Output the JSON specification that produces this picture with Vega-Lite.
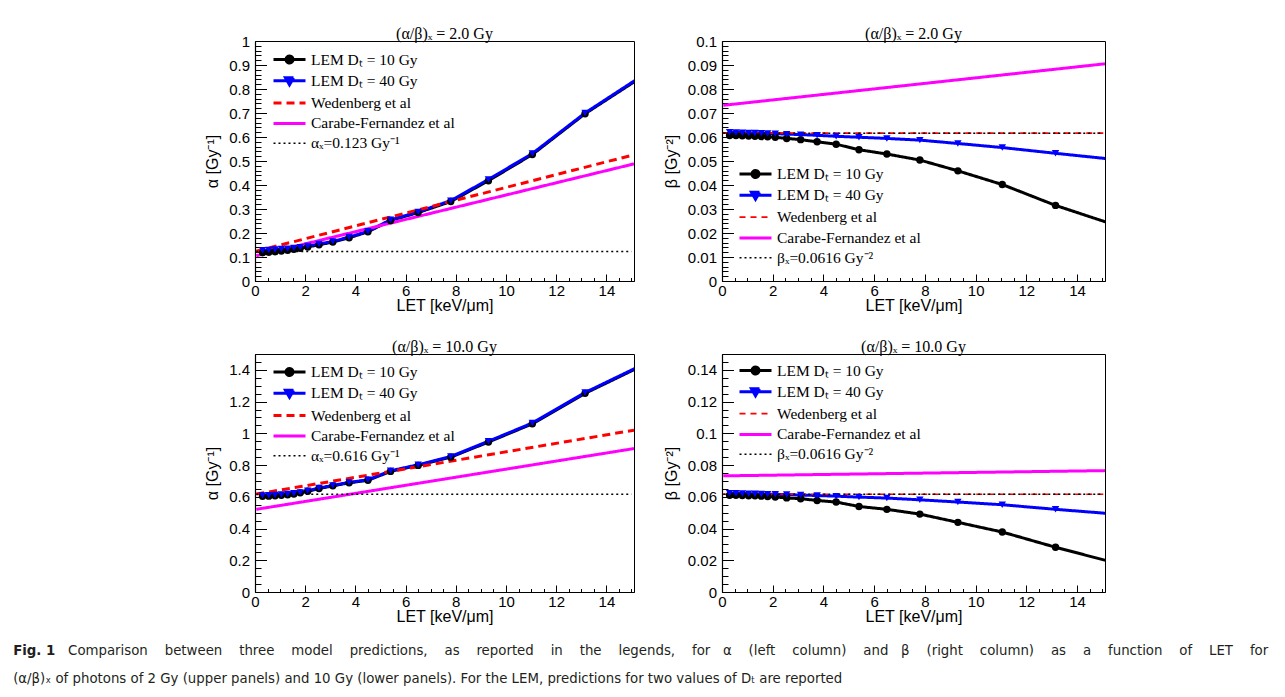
{
  "$schema": "https://vega.github.io/schema/vega-lite/v6.json",
  "padding": {"left": 13, "top": 25, "right": 0, "bottom": 0},
  "background": "white",
  "title": {
    "text": "Fig. 1",
    "subtitle": ["\u200b\u00a0\u00a0\u00a0\u00a0\u00a0\u00a0\u00a0\u00a0\u00a0\u00a0\u00a0\u00a0\u00a0Comparison \u00a0\u00a0\u00a0between \u00a0\u00a0\u00a0three \u00a0\u00a0\u00a0model \u00a0\u00a0\u00a0predictions, \u00a0\u00a0\u00a0as \u00a0\u00a0\u00a0reported \u00a0\u00a0\u00a0in \u00a0\u00a0\u00a0the \u00a0\u00a0\u00a0legends, \u00a0\u00a0\u00a0for \u00a0\u00a0α \u00a0\u00a0\u00a0(left \u00a0\u00a0\u00a0column) \u00a0\u00a0\u00a0and \u00a0\u00a0β \u00a0\u00a0\u00a0(right \u00a0\u00a0\u00a0column) \u00a0\u00a0\u00a0as \u00a0\u00a0\u00a0a \u00a0\u00a0\u00a0function \u00a0\u00a0\u00a0of \u00a0\u00a0\u00a0LET \u00a0\u00a0\u00a0for", "(α/β)ₓ of photons of 2 Gy (upper panels) and 10 Gy (lower panels). For the LEM, predictions for two values of Dₜ are reported"],
    "orient": "bottom", "anchor": "start", "frame": "bounds", "dx": -191, "offset": 18,
    "font": "DejaVu Sans Condensed", "fontSize": 14.8, "fontWeight": "bold", "color": "#231f20", "baseline": "top",
    "subtitleFont": "DejaVu Sans Condensed", "subtitleFontSize": 14.8, "subtitleFontWeight": "normal", "subtitleColor": "#231f20", "subtitleLineHeight": 28, "subtitlePadding": -14.8
  },
  "datasets": {
    "A": [
      {"s": "LEM Dₜ = 10 Gy", "x": 0.3, "y": 0.118}, {"s": "LEM Dₜ = 10 Gy", "x": 0.55, "y": 0.120}, {"s": "LEM Dₜ = 10 Gy", "x": 0.8, "y": 0.122}, {"s": "LEM Dₜ = 10 Gy", "x": 1.05, "y": 0.125}, {"s": "LEM Dₜ = 10 Gy", "x": 1.3, "y": 0.128}, {"s": "LEM Dₜ = 10 Gy", "x": 1.55, "y": 0.132}, {"s": "LEM Dₜ = 10 Gy", "x": 1.8, "y": 0.136}, {"s": "LEM Dₜ = 10 Gy", "x": 2.1, "y": 0.142}, {"s": "LEM Dₜ = 10 Gy", "x": 2.55, "y": 0.151}, {"s": "LEM Dₜ = 10 Gy", "x": 3.1, "y": 0.162}, {"s": "LEM Dₜ = 10 Gy", "x": 3.75, "y": 0.180}, {"s": "LEM Dₜ = 10 Gy", "x": 4.5, "y": 0.205}, {"s": "LEM Dₜ = 10 Gy", "x": 5.4, "y": 0.252}, {"s": "LEM Dₜ = 10 Gy", "x": 6.5, "y": 0.285}, {"s": "LEM Dₜ = 10 Gy", "x": 7.8, "y": 0.331}, {"s": "LEM Dₜ = 10 Gy", "x": 9.3, "y": 0.418}, {"s": "LEM Dₜ = 10 Gy", "x": 11.05, "y": 0.527}, {"s": "LEM Dₜ = 10 Gy", "x": 13.15, "y": 0.697}, {"s": "LEM Dₜ = 10 Gy", "x": 15.7, "y": 0.870},
      {"s": "LEM Dₜ = 40 Gy", "x": 0.3, "y": 0.128}, {"s": "LEM Dₜ = 40 Gy", "x": 0.55, "y": 0.129}, {"s": "LEM Dₜ = 40 Gy", "x": 0.8, "y": 0.131}, {"s": "LEM Dₜ = 40 Gy", "x": 1.05, "y": 0.133}, {"s": "LEM Dₜ = 40 Gy", "x": 1.3, "y": 0.135}, {"s": "LEM Dₜ = 40 Gy", "x": 1.55, "y": 0.138}, {"s": "LEM Dₜ = 40 Gy", "x": 1.8, "y": 0.141}, {"s": "LEM Dₜ = 40 Gy", "x": 2.1, "y": 0.146}, {"s": "LEM Dₜ = 40 Gy", "x": 2.55, "y": 0.154}, {"s": "LEM Dₜ = 40 Gy", "x": 3.1, "y": 0.165}, {"s": "LEM Dₜ = 40 Gy", "x": 3.75, "y": 0.183}, {"s": "LEM Dₜ = 40 Gy", "x": 4.5, "y": 0.207}, {"s": "LEM Dₜ = 40 Gy", "x": 5.4, "y": 0.255}, {"s": "LEM Dₜ = 40 Gy", "x": 6.5, "y": 0.288}, {"s": "LEM Dₜ = 40 Gy", "x": 7.8, "y": 0.335}, {"s": "LEM Dₜ = 40 Gy", "x": 9.3, "y": 0.423}, {"s": "LEM Dₜ = 40 Gy", "x": 11.05, "y": 0.531}, {"s": "LEM Dₜ = 40 Gy", "x": 13.15, "y": 0.700}, {"s": "LEM Dₜ = 40 Gy", "x": 15.7, "y": 0.874},
      {"s": "Wedenberg et al", "x": 0.05, "y": 0.124}, {"s": "Wedenberg et al", "x": 15.1, "y": 0.526},
      {"s": "Carabe-Fernandez et al", "x": 0.05, "y": 0.105}, {"s": "Carabe-Fernandez et al", "x": 15.1, "y": 0.488},
      {"s": "αₓ=0.123 Gy⁻¹", "x": 0.05, "y": 0.123}, {"s": "αₓ=0.123 Gy⁻¹", "x": 15.0, "y": 0.123}
    ],
    "B": [
      {"s": "LEM Dₜ = 10 Gy", "x": 0.3, "y": 0.0606}, {"s": "LEM Dₜ = 10 Gy", "x": 0.55, "y": 0.0606}, {"s": "LEM Dₜ = 10 Gy", "x": 0.8, "y": 0.0605}, {"s": "LEM Dₜ = 10 Gy", "x": 1.05, "y": 0.0604}, {"s": "LEM Dₜ = 10 Gy", "x": 1.3, "y": 0.0603}, {"s": "LEM Dₜ = 10 Gy", "x": 1.55, "y": 0.0602}, {"s": "LEM Dₜ = 10 Gy", "x": 1.8, "y": 0.0601}, {"s": "LEM Dₜ = 10 Gy", "x": 2.1, "y": 0.0599}, {"s": "LEM Dₜ = 10 Gy", "x": 2.55, "y": 0.0594}, {"s": "LEM Dₜ = 10 Gy", "x": 3.1, "y": 0.0589}, {"s": "LEM Dₜ = 10 Gy", "x": 3.75, "y": 0.0580}, {"s": "LEM Dₜ = 10 Gy", "x": 4.5, "y": 0.0570}, {"s": "LEM Dₜ = 10 Gy", "x": 5.4, "y": 0.0547}, {"s": "LEM Dₜ = 10 Gy", "x": 6.5, "y": 0.0529}, {"s": "LEM Dₜ = 10 Gy", "x": 7.8, "y": 0.0504}, {"s": "LEM Dₜ = 10 Gy", "x": 9.3, "y": 0.0459}, {"s": "LEM Dₜ = 10 Gy", "x": 11.05, "y": 0.0402}, {"s": "LEM Dₜ = 10 Gy", "x": 13.15, "y": 0.0315}, {"s": "LEM Dₜ = 10 Gy", "x": 15.7, "y": 0.0226},
      {"s": "LEM Dₜ = 40 Gy", "x": 0.3, "y": 0.0620}, {"s": "LEM Dₜ = 40 Gy", "x": 0.55, "y": 0.0619}, {"s": "LEM Dₜ = 40 Gy", "x": 0.8, "y": 0.0618}, {"s": "LEM Dₜ = 40 Gy", "x": 1.05, "y": 0.0617}, {"s": "LEM Dₜ = 40 Gy", "x": 1.3, "y": 0.0617}, {"s": "LEM Dₜ = 40 Gy", "x": 1.55, "y": 0.0616}, {"s": "LEM Dₜ = 40 Gy", "x": 1.8, "y": 0.0615}, {"s": "LEM Dₜ = 40 Gy", "x": 2.1, "y": 0.0614}, {"s": "LEM Dₜ = 40 Gy", "x": 2.55, "y": 0.0612}, {"s": "LEM Dₜ = 40 Gy", "x": 3.1, "y": 0.0610}, {"s": "LEM Dₜ = 40 Gy", "x": 3.75, "y": 0.0607}, {"s": "LEM Dₜ = 40 Gy", "x": 4.5, "y": 0.0603}, {"s": "LEM Dₜ = 40 Gy", "x": 5.4, "y": 0.0599}, {"s": "LEM Dₜ = 40 Gy", "x": 6.5, "y": 0.0594}, {"s": "LEM Dₜ = 40 Gy", "x": 7.8, "y": 0.0587}, {"s": "LEM Dₜ = 40 Gy", "x": 9.3, "y": 0.0573}, {"s": "LEM Dₜ = 40 Gy", "x": 11.05, "y": 0.0556}, {"s": "LEM Dₜ = 40 Gy", "x": 13.15, "y": 0.0532}, {"s": "LEM Dₜ = 40 Gy", "x": 15.7, "y": 0.0504},
      {"s": "Wedenberg et al", "x": 0.05, "y": 0.0616}, {"s": "Wedenberg et al", "x": 15.1, "y": 0.0616},
      {"s": "Carabe-Fernandez et al", "x": 0.05, "y": 0.0732}, {"s": "Carabe-Fernandez et al", "x": 15.1, "y": 0.0905},
      {"s": "βₓ=0.0616 Gy⁻²", "x": 0.05, "y": 0.0616}, {"s": "βₓ=0.0616 Gy⁻²", "x": 15.0, "y": 0.0616}
    ],
    "C": [
      {"s": "LEM Dₜ = 10 Gy", "x": 0.3, "y": 0.603}, {"s": "LEM Dₜ = 10 Gy", "x": 0.55, "y": 0.604}, {"s": "LEM Dₜ = 10 Gy", "x": 0.8, "y": 0.606}, {"s": "LEM Dₜ = 10 Gy", "x": 1.05, "y": 0.609}, {"s": "LEM Dₜ = 10 Gy", "x": 1.3, "y": 0.613}, {"s": "LEM Dₜ = 10 Gy", "x": 1.55, "y": 0.618}, {"s": "LEM Dₜ = 10 Gy", "x": 1.8, "y": 0.625}, {"s": "LEM Dₜ = 10 Gy", "x": 2.1, "y": 0.635}, {"s": "LEM Dₜ = 10 Gy", "x": 2.55, "y": 0.652}, {"s": "LEM Dₜ = 10 Gy", "x": 3.1, "y": 0.669}, {"s": "LEM Dₜ = 10 Gy", "x": 3.75, "y": 0.688}, {"s": "LEM Dₜ = 10 Gy", "x": 4.5, "y": 0.704}, {"s": "LEM Dₜ = 10 Gy", "x": 5.4, "y": 0.760}, {"s": "LEM Dₜ = 10 Gy", "x": 6.5, "y": 0.798}, {"s": "LEM Dₜ = 10 Gy", "x": 7.8, "y": 0.850}, {"s": "LEM Dₜ = 10 Gy", "x": 9.3, "y": 0.945}, {"s": "LEM Dₜ = 10 Gy", "x": 11.05, "y": 1.060}, {"s": "LEM Dₜ = 10 Gy", "x": 13.15, "y": 1.252}, {"s": "LEM Dₜ = 10 Gy", "x": 15.7, "y": 1.447},
      {"s": "LEM Dₜ = 40 Gy", "x": 0.3, "y": 0.609}, {"s": "LEM Dₜ = 40 Gy", "x": 0.55, "y": 0.610}, {"s": "LEM Dₜ = 40 Gy", "x": 0.8, "y": 0.612}, {"s": "LEM Dₜ = 40 Gy", "x": 1.05, "y": 0.614}, {"s": "LEM Dₜ = 40 Gy", "x": 1.3, "y": 0.618}, {"s": "LEM Dₜ = 40 Gy", "x": 1.55, "y": 0.622}, {"s": "LEM Dₜ = 40 Gy", "x": 1.8, "y": 0.628}, {"s": "LEM Dₜ = 40 Gy", "x": 2.1, "y": 0.638}, {"s": "LEM Dₜ = 40 Gy", "x": 2.55, "y": 0.655}, {"s": "LEM Dₜ = 40 Gy", "x": 3.1, "y": 0.672}, {"s": "LEM Dₜ = 40 Gy", "x": 3.75, "y": 0.691}, {"s": "LEM Dₜ = 40 Gy", "x": 4.5, "y": 0.707}, {"s": "LEM Dₜ = 40 Gy", "x": 5.4, "y": 0.764}, {"s": "LEM Dₜ = 40 Gy", "x": 6.5, "y": 0.802}, {"s": "LEM Dₜ = 40 Gy", "x": 7.8, "y": 0.854}, {"s": "LEM Dₜ = 40 Gy", "x": 9.3, "y": 0.950}, {"s": "LEM Dₜ = 40 Gy", "x": 11.05, "y": 1.065}, {"s": "LEM Dₜ = 40 Gy", "x": 13.15, "y": 1.257}, {"s": "LEM Dₜ = 40 Gy", "x": 15.7, "y": 1.452},
      {"s": "Wedenberg et al", "x": 0.05, "y": 0.617}, {"s": "Wedenberg et al", "x": 15.1, "y": 1.020},
      {"s": "Carabe-Fernandez et al", "x": 0.05, "y": 0.521}, {"s": "Carabe-Fernandez et al", "x": 15.1, "y": 0.904},
      {"s": "αₓ=0.616 Gy⁻¹", "x": 0.05, "y": 0.616}, {"s": "αₓ=0.616 Gy⁻¹", "x": 15.0, "y": 0.616}
    ],
    "D": [
      {"s": "LEM Dₜ = 10 Gy", "x": 0.3, "y": 0.0610}, {"s": "LEM Dₜ = 10 Gy", "x": 0.55, "y": 0.0609}, {"s": "LEM Dₜ = 10 Gy", "x": 0.8, "y": 0.0608}, {"s": "LEM Dₜ = 10 Gy", "x": 1.05, "y": 0.0607}, {"s": "LEM Dₜ = 10 Gy", "x": 1.3, "y": 0.0606}, {"s": "LEM Dₜ = 10 Gy", "x": 1.55, "y": 0.0604}, {"s": "LEM Dₜ = 10 Gy", "x": 1.8, "y": 0.0602}, {"s": "LEM Dₜ = 10 Gy", "x": 2.1, "y": 0.0599}, {"s": "LEM Dₜ = 10 Gy", "x": 2.55, "y": 0.0593}, {"s": "LEM Dₜ = 10 Gy", "x": 3.1, "y": 0.0588}, {"s": "LEM Dₜ = 10 Gy", "x": 3.75, "y": 0.0577}, {"s": "LEM Dₜ = 10 Gy", "x": 4.5, "y": 0.0567}, {"s": "LEM Dₜ = 10 Gy", "x": 5.4, "y": 0.0539}, {"s": "LEM Dₜ = 10 Gy", "x": 6.5, "y": 0.0521}, {"s": "LEM Dₜ = 10 Gy", "x": 7.8, "y": 0.0491}, {"s": "LEM Dₜ = 10 Gy", "x": 9.3, "y": 0.0439}, {"s": "LEM Dₜ = 10 Gy", "x": 11.05, "y": 0.0378}, {"s": "LEM Dₜ = 10 Gy", "x": 13.15, "y": 0.0282}, {"s": "LEM Dₜ = 10 Gy", "x": 15.7, "y": 0.0175},
      {"s": "LEM Dₜ = 40 Gy", "x": 0.3, "y": 0.0623}, {"s": "LEM Dₜ = 40 Gy", "x": 0.55, "y": 0.0622}, {"s": "LEM Dₜ = 40 Gy", "x": 0.8, "y": 0.0621}, {"s": "LEM Dₜ = 40 Gy", "x": 1.05, "y": 0.0620}, {"s": "LEM Dₜ = 40 Gy", "x": 1.3, "y": 0.0619}, {"s": "LEM Dₜ = 40 Gy", "x": 1.55, "y": 0.0618}, {"s": "LEM Dₜ = 40 Gy", "x": 1.8, "y": 0.0617}, {"s": "LEM Dₜ = 40 Gy", "x": 2.1, "y": 0.0616}, {"s": "LEM Dₜ = 40 Gy", "x": 2.55, "y": 0.0614}, {"s": "LEM Dₜ = 40 Gy", "x": 3.1, "y": 0.0611}, {"s": "LEM Dₜ = 40 Gy", "x": 3.75, "y": 0.0608}, {"s": "LEM Dₜ = 40 Gy", "x": 4.5, "y": 0.0604}, {"s": "LEM Dₜ = 40 Gy", "x": 5.4, "y": 0.0598}, {"s": "LEM Dₜ = 40 Gy", "x": 6.5, "y": 0.0592}, {"s": "LEM Dₜ = 40 Gy", "x": 7.8, "y": 0.0581}, {"s": "LEM Dₜ = 40 Gy", "x": 9.3, "y": 0.0567}, {"s": "LEM Dₜ = 40 Gy", "x": 11.05, "y": 0.0550}, {"s": "LEM Dₜ = 40 Gy", "x": 13.15, "y": 0.0521}, {"s": "LEM Dₜ = 40 Gy", "x": 15.7, "y": 0.0489},
      {"s": "Wedenberg et al", "x": 0.05, "y": 0.0616}, {"s": "Wedenberg et al", "x": 15.1, "y": 0.0616},
      {"s": "Carabe-Fernandez et al", "x": 0.05, "y": 0.0732}, {"s": "Carabe-Fernandez et al", "x": 15.1, "y": 0.0765},
      {"s": "βₓ=0.0616 Gy⁻²", "x": 0.05, "y": 0.0616}, {"s": "βₓ=0.0616 Gy⁻²", "x": 15.0, "y": 0.0616}
    ]
  },
  "vconcat": [
    {
      "resolve": {"scale": {"color": "independent", "strokeDash": "independent", "strokeWidth": "independent", "shape": "independent", "fill": "independent", "x": "independent", "y": "independent"}, "legend": {"color": "independent", "strokeDash": "independent", "strokeWidth": "independent"}},
      "hconcat": [
        {
          "width": 379, "height": 240,
          "data": {"name": "A"},
          "title": {"text": "(α/β)ₓ = 2.0 Gy"},
          "encoding": {
            "x": {"field": "x", "type": "quantitative", "scale": {"domain": [0, 15.1], "nice": false, "zero": false},
              "axis": {"title": "LET [keV/μm]", "values": [0,0.5,1,1.5,2,2.5,3,3.5,4,4.5,5,5.5,6,6.5,7,7.5,8,8.5,9,9.5,10,10.5,11,11.5,12,12.5,13,13.5,14,14.5,15],
                "tickSize": {"expr": "abs(datum.value/2-round(datum.value/2))<0.001 ? -7 : -3.5"},
                "labelExpr": "abs(datum.value/2-round(datum.value/2))<0.001 ? format(datum.value,'d') : ''"}},
            "y": {"field": "y", "type": "quantitative", "scale": {"domain": [0, 1], "nice": false, "zero": false},
              "axis": {"title": "α [Gy⁻¹]", "values": [0,0.02,0.04,0.06,0.08,0.1,0.12,0.14,0.16,0.18,0.2,0.22,0.24,0.26,0.28,0.3,0.32,0.34,0.36,0.38,0.4,0.42,0.44,0.46,0.48,0.5,0.52,0.54,0.56,0.58,0.6,0.62,0.64,0.66,0.68,0.7,0.72,0.74,0.76,0.78,0.8,0.82,0.84,0.86,0.88,0.9,0.92,0.94,0.96,0.98,1],
                "tickSize": {"expr": "abs(datum.value*10-round(datum.value*10))<0.001 ? -11.5 : -6"},
                "labelExpr": "abs(datum.value*10-round(datum.value*10))<0.001 ? format(datum.value,'.1~f') : ''"}}
          },
          "layer": [
            {
              "mark": {"type": "line", "clip": true},
              "encoding": {
                "color": {"field": "s", "type": "nominal", "scale": {"domain": ["LEM Dₜ = 10 Gy", "LEM Dₜ = 40 Gy", "Wedenberg et al", "Carabe-Fernandez et al", "αₓ=0.123 Gy⁻¹"], "range": ["#000000", "#0000ff", "#ff0000", "#ff00ff", "#000000"]},
                  "legend": {"title": null, "orient": "none", "legendX": 23, "legendY": 7,
                    "encode": {"symbols": {"update": {
                      "shape": {"signal": "datum.index == 0 ? 'M-1.6,0L1.6,0M0.35,0A0.35,0.35,0,1,1,-0.35,0A0.35,0.35,0,1,1,0.35,0Z' : datum.index == 1 ? 'M-1.6,0L1.6,0M-0.4,-0.3L0.4,-0.3L0,0.4Z' : 'M-1.6,0L1.6,0'"},
                      "fill": {"signal": "datum.index == 0 ? '#000000' : datum.index == 1 ? '#0000ff' : 'transparent'"}}}}}},
                "strokeDash": {"field": "s", "type": "nominal", "scale": {"domain": ["LEM Dₜ = 10 Gy", "LEM Dₜ = 40 Gy", "Wedenberg et al", "Carabe-Fernandez et al", "αₓ=0.123 Gy⁻¹"], "range": [[1,0],[1,0],[8,5],[1,0],[2,3]]}, "legend": {"title": null}},
                "strokeWidth": {"field": "s", "type": "nominal", "scale": {"type": "ordinal", "domain": ["LEM Dₜ = 10 Gy", "LEM Dₜ = 40 Gy", "Wedenberg et al", "Carabe-Fernandez et al", "αₓ=0.123 Gy⁻¹"], "range": [3,3,3,3,1.5]}, "legend": {"title": null}}
              }
            },
            {
              "transform": [{"filter": "indexof(datum.s, 'LEM') == 0"}],
              "mark": {"type": "point", "filled": true, "clip": true, "opacity": 1, "size": 55, "strokeWidth": 0},
              "encoding": {
                "shape": {"field": "s", "type": "nominal", "scale": {"domain": ["LEM Dₜ = 10 Gy", "LEM Dₜ = 40 Gy"], "range": ["circle", "triangle-down"]}, "legend": null},
                "fill": {"field": "s", "type": "nominal", "scale": {"domain": ["LEM Dₜ = 10 Gy", "LEM Dₜ = 40 Gy"], "range": ["#000000", "#0000ff"]}, "legend": null}
              }
            }
          ]
        },
        {
          "width": 383, "height": 240,
          "data": {"name": "B"},
          "title": {"text": "(α/β)ₓ = 2.0 Gy"},
          "encoding": {
            "x": {"field": "x", "type": "quantitative", "scale": {"domain": [0, 15.1], "nice": false, "zero": false},
              "axis": {"title": "LET [keV/μm]", "values": [0,0.5,1,1.5,2,2.5,3,3.5,4,4.5,5,5.5,6,6.5,7,7.5,8,8.5,9,9.5,10,10.5,11,11.5,12,12.5,13,13.5,14,14.5,15],
                "tickSize": {"expr": "abs(datum.value/2-round(datum.value/2))<0.001 ? -7 : -3.5"},
                "labelExpr": "abs(datum.value/2-round(datum.value/2))<0.001 ? format(datum.value,'d') : ''"}},
            "y": {"field": "y", "type": "quantitative", "scale": {"domain": [0, 0.1], "nice": false, "zero": false},
              "axis": {"title": "β [Gy⁻²]", "values": [0,0.002,0.004,0.006,0.008,0.01,0.012,0.014,0.016,0.018,0.02,0.022,0.024,0.026,0.028,0.03,0.032,0.034,0.036,0.038,0.04,0.042,0.044,0.046,0.048,0.05,0.052,0.054,0.056,0.058,0.06,0.062,0.064,0.066,0.068,0.07,0.072,0.074,0.076,0.078,0.08,0.082,0.084,0.086,0.088,0.09,0.092,0.094,0.096,0.098,0.1],
                "tickSize": {"expr": "abs(datum.value*100-round(datum.value*100))<0.001 ? -11.5 : -6"},
                "labelExpr": "abs(datum.value*100-round(datum.value*100))<0.001 ? format(datum.value,'.2~f') : ''"}}
          },
          "layer": [
            {
              "mark": {"type": "line", "clip": true},
              "encoding": {
                "color": {"field": "s", "type": "nominal", "scale": {"domain": ["LEM Dₜ = 10 Gy", "LEM Dₜ = 40 Gy", "Wedenberg et al", "Carabe-Fernandez et al", "βₓ=0.0616 Gy⁻²"], "range": ["#000000", "#0000ff", "#ff0000", "#ff00ff", "#000000"]},
                  "legend": {"title": null, "orient": "none", "legendX": 22, "legendY": 121.5,
                    "encode": {"symbols": {"update": {
                      "shape": {"signal": "datum.index == 0 ? 'M-1.6,0L1.6,0M0.35,0A0.35,0.35,0,1,1,-0.35,0A0.35,0.35,0,1,1,0.35,0Z' : datum.index == 1 ? 'M-1.6,0L1.6,0M-0.4,-0.3L0.4,-0.3L0,0.4Z' : 'M-1.6,0L1.6,0'"},
                      "fill": {"signal": "datum.index == 0 ? '#000000' : datum.index == 1 ? '#0000ff' : 'transparent'"}}}}}},
                "strokeDash": {"field": "s", "type": "nominal", "scale": {"domain": ["LEM Dₜ = 10 Gy", "LEM Dₜ = 40 Gy", "Wedenberg et al", "Carabe-Fernandez et al", "βₓ=0.0616 Gy⁻²"], "range": [[1,0],[1,0],[6,5],[1,0],[2,3]]}, "legend": {"title": null}},
                "strokeWidth": {"field": "s", "type": "nominal", "scale": {"type": "ordinal", "domain": ["LEM Dₜ = 10 Gy", "LEM Dₜ = 40 Gy", "Wedenberg et al", "Carabe-Fernandez et al", "βₓ=0.0616 Gy⁻²"], "range": [3,3,1.6,3,1.5]}, "legend": {"title": null}}
              }
            },
            {
              "transform": [{"filter": "indexof(datum.s, 'LEM') == 0"}],
              "mark": {"type": "point", "filled": true, "clip": true, "opacity": 1, "size": 55, "strokeWidth": 0},
              "encoding": {
                "shape": {"field": "s", "type": "nominal", "scale": {"domain": ["LEM Dₜ = 10 Gy", "LEM Dₜ = 40 Gy"], "range": ["circle", "triangle-down"]}, "legend": null},
                "fill": {"field": "s", "type": "nominal", "scale": {"domain": ["LEM Dₜ = 10 Gy", "LEM Dₜ = 40 Gy"], "range": ["#000000", "#0000ff"]}, "legend": null}
              }
            }
          ]
        }
      ]
    },
    {
      "resolve": {"scale": {"color": "independent", "strokeDash": "independent", "strokeWidth": "independent", "shape": "independent", "fill": "independent", "x": "independent", "y": "independent"}, "legend": {"color": "independent", "strokeDash": "independent", "strokeWidth": "independent"}},
      "hconcat": [
        {
          "width": 379, "height": 238,
          "data": {"name": "C"},
          "title": {"text": "(α/β)ₓ = 10.0 Gy"},
          "encoding": {
            "x": {"field": "x", "type": "quantitative", "scale": {"domain": [0, 15.1], "nice": false, "zero": false},
              "axis": {"title": "LET [keV/μm]", "values": [0,0.5,1,1.5,2,2.5,3,3.5,4,4.5,5,5.5,6,6.5,7,7.5,8,8.5,9,9.5,10,10.5,11,11.5,12,12.5,13,13.5,14,14.5,15],
                "tickSize": {"expr": "abs(datum.value/2-round(datum.value/2))<0.001 ? -7 : -3.5"},
                "labelExpr": "abs(datum.value/2-round(datum.value/2))<0.001 ? format(datum.value,'d') : ''"}},
            "y": {"field": "y", "type": "quantitative", "scale": {"domain": [0, 1.5], "nice": false, "zero": false},
              "axis": {"title": "α [Gy⁻¹]", "values": [0,0.05,0.1,0.15,0.2,0.25,0.3,0.35,0.4,0.45,0.5,0.55,0.6,0.65,0.7,0.75,0.8,0.85,0.9,0.95,1,1.05,1.1,1.15,1.2,1.25,1.3,1.35,1.4,1.45,1.5],
                "tickSize": {"expr": "abs(datum.value*5-round(datum.value*5))<0.001 ? -11.5 : -6"},
                "labelExpr": "abs(datum.value*5-round(datum.value*5))<0.001 ? format(datum.value,'.1~f') : ''"}}
          },
          "layer": [
            {
              "mark": {"type": "line", "clip": true},
              "encoding": {
                "color": {"field": "s", "type": "nominal", "scale": {"domain": ["LEM Dₜ = 10 Gy", "LEM Dₜ = 40 Gy", "Wedenberg et al", "Carabe-Fernandez et al", "αₓ=0.616 Gy⁻¹"], "range": ["#000000", "#0000ff", "#ff0000", "#ff00ff", "#000000"]},
                  "legend": {"title": null, "orient": "none", "legendX": 23, "legendY": 6.5,
                    "encode": {"symbols": {"update": {
                      "shape": {"signal": "datum.index == 0 ? 'M-1.6,0L1.6,0M0.35,0A0.35,0.35,0,1,1,-0.35,0A0.35,0.35,0,1,1,0.35,0Z' : datum.index == 1 ? 'M-1.6,0L1.6,0M-0.4,-0.3L0.4,-0.3L0,0.4Z' : 'M-1.6,0L1.6,0'"},
                      "fill": {"signal": "datum.index == 0 ? '#000000' : datum.index == 1 ? '#0000ff' : 'transparent'"}}}}}},
                "strokeDash": {"field": "s", "type": "nominal", "scale": {"domain": ["LEM Dₜ = 10 Gy", "LEM Dₜ = 40 Gy", "Wedenberg et al", "Carabe-Fernandez et al", "αₓ=0.616 Gy⁻¹"], "range": [[1,0],[1,0],[8,5],[1,0],[2,3]]}, "legend": {"title": null}},
                "strokeWidth": {"field": "s", "type": "nominal", "scale": {"type": "ordinal", "domain": ["LEM Dₜ = 10 Gy", "LEM Dₜ = 40 Gy", "Wedenberg et al", "Carabe-Fernandez et al", "αₓ=0.616 Gy⁻¹"], "range": [3,3,3,3,1.5]}, "legend": {"title": null}}
              }
            },
            {
              "transform": [{"filter": "indexof(datum.s, 'LEM') == 0"}],
              "mark": {"type": "point", "filled": true, "clip": true, "opacity": 1, "size": 55, "strokeWidth": 0},
              "encoding": {
                "shape": {"field": "s", "type": "nominal", "scale": {"domain": ["LEM Dₜ = 10 Gy", "LEM Dₜ = 40 Gy"], "range": ["circle", "triangle-down"]}, "legend": null},
                "fill": {"field": "s", "type": "nominal", "scale": {"domain": ["LEM Dₜ = 10 Gy", "LEM Dₜ = 40 Gy"], "range": ["#000000", "#0000ff"]}, "legend": null}
              }
            }
          ]
        },
        {
          "width": 383, "height": 238,
          "data": {"name": "D"},
          "title": {"text": "(α/β)ₓ = 10.0 Gy"},
          "encoding": {
            "x": {"field": "x", "type": "quantitative", "scale": {"domain": [0, 15.1], "nice": false, "zero": false},
              "axis": {"title": "LET [keV/μm]", "values": [0,0.5,1,1.5,2,2.5,3,3.5,4,4.5,5,5.5,6,6.5,7,7.5,8,8.5,9,9.5,10,10.5,11,11.5,12,12.5,13,13.5,14,14.5,15],
                "tickSize": {"expr": "abs(datum.value/2-round(datum.value/2))<0.001 ? -7 : -3.5"},
                "labelExpr": "abs(datum.value/2-round(datum.value/2))<0.001 ? format(datum.value,'d') : ''"}},
            "y": {"field": "y", "type": "quantitative", "scale": {"domain": [0, 0.15], "nice": false, "zero": false},
              "axis": {"title": "β [Gy⁻²]", "values": [0,0.005,0.01,0.015,0.02,0.025,0.03,0.035,0.04,0.045,0.05,0.055,0.06,0.065,0.07,0.075,0.08,0.085,0.09,0.095,0.1,0.105,0.11,0.115,0.12,0.125,0.13,0.135,0.14,0.145,0.15],
                "tickSize": {"expr": "abs(datum.value*50-round(datum.value*50))<0.001 ? -11.5 : -6"},
                "labelExpr": "abs(datum.value*50-round(datum.value*50))<0.001 ? format(datum.value,'.2~f') : ''"}}
          },
          "layer": [
            {
              "mark": {"type": "line", "clip": true},
              "encoding": {
                "color": {"field": "s", "type": "nominal", "scale": {"domain": ["LEM Dₜ = 10 Gy", "LEM Dₜ = 40 Gy", "Wedenberg et al", "Carabe-Fernandez et al", "βₓ=0.0616 Gy⁻²"], "range": ["#000000", "#0000ff", "#ff0000", "#ff00ff", "#000000"]},
                  "legend": {"title": null, "orient": "none", "legendX": 22, "legendY": 5,
                    "encode": {"symbols": {"update": {
                      "shape": {"signal": "datum.index == 0 ? 'M-1.6,0L1.6,0M0.35,0A0.35,0.35,0,1,1,-0.35,0A0.35,0.35,0,1,1,0.35,0Z' : datum.index == 1 ? 'M-1.6,0L1.6,0M-0.4,-0.3L0.4,-0.3L0,0.4Z' : 'M-1.6,0L1.6,0'"},
                      "fill": {"signal": "datum.index == 0 ? '#000000' : datum.index == 1 ? '#0000ff' : 'transparent'"}}}}}},
                "strokeDash": {"field": "s", "type": "nominal", "scale": {"domain": ["LEM Dₜ = 10 Gy", "LEM Dₜ = 40 Gy", "Wedenberg et al", "Carabe-Fernandez et al", "βₓ=0.0616 Gy⁻²"], "range": [[1,0],[1,0],[6,5],[1,0],[2,3]]}, "legend": {"title": null}},
                "strokeWidth": {"field": "s", "type": "nominal", "scale": {"type": "ordinal", "domain": ["LEM Dₜ = 10 Gy", "LEM Dₜ = 40 Gy", "Wedenberg et al", "Carabe-Fernandez et al", "βₓ=0.0616 Gy⁻²"], "range": [3,3,1.6,3,1.5]}, "legend": {"title": null}}
              }
            },
            {
              "transform": [{"filter": "indexof(datum.s, 'LEM') == 0"}],
              "mark": {"type": "point", "filled": true, "clip": true, "opacity": 1, "size": 55, "strokeWidth": 0},
              "encoding": {
                "shape": {"field": "s", "type": "nominal", "scale": {"domain": ["LEM Dₜ = 10 Gy", "LEM Dₜ = 40 Gy"], "range": ["circle", "triangle-down"]}, "legend": null},
                "fill": {"field": "s", "type": "nominal", "scale": {"domain": ["LEM Dₜ = 10 Gy", "LEM Dₜ = 40 Gy"], "range": ["#000000", "#0000ff"]}, "legend": null}
              }
            }
          ]
        }
      ]
    }
  ],
  "spacing": 24,
  "resolve": {"scale": {"color": "independent", "strokeDash": "independent", "strokeWidth": "independent", "shape": "independent", "fill": "independent", "x": "independent", "y": "independent"}, "legend": {"color": "independent", "strokeDash": "independent", "strokeWidth": "independent"}},
  "config": {
    "concat": {"spacing": 27},
    "view": {"stroke": "#000000", "strokeWidth": 1},
    "axis": {"grid": false, "domainColor": "#000000", "domainWidth": 1.2, "tickColor": "#000000", "tickWidth": 1, "labelColor": "#000000", "titleColor": "#000000",
      "labelFont": "Liberation Sans", "labelFontSize": 15, "titleFont": "Liberation Sans", "titleFontSize": 16, "titleFontWeight": "normal",
      "labelOverlap": false, "labelFlush": false, "labelPadding": 17},
    "axisX": {"labelPadding": 9, "titlePadding": -4},
    "axisY": {"titlePadding": 8},
    "legend": {"labelFont": "Liberation Serif", "labelFontSize": 15.5, "labelColor": "#000000", "symbolSize": 400, "rowPadding": 0.3, "labelOffset": 10, "padding": 0, "symbolStrokeColor": "#000000"},
    "title": {"font": "Liberation Serif", "fontSize": 16, "fontWeight": "normal", "color": "#000000", "anchor": "middle", "offset": -8}
  }
}
